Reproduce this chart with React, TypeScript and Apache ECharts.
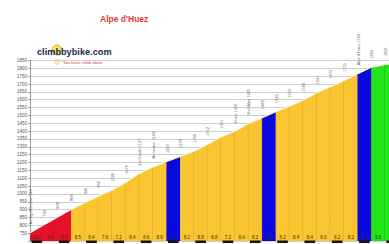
import React, { useEffect, useRef } from "react";
import * as echarts from "echarts";

// Segment boundaries (km) and elevation at each boundary (m)
const KM = [0, 0.5, 1, 1.5, 2, 2.5, 3, 3.5, 4, 4.5, 5, 5.5, 6, 6.5, 7, 7.5, 8, 8.5, 9, 9.5, 10, 10.5, 11, 11.5, 12, 12.5, 13, 13.5];
const ELEV = [749, 799, 848, 898, 940, 982, 1020, 1070, 1127, 1168, 1203, 1235, 1269, 1312, 1361, 1396, 1445, 1482, 1520, 1556, 1594, 1641, 1679, 1719, 1762, 1804, 1821, 1834];
// Segment colour class: r = red, y = yellow, b = blue, g = green
const SEG_CLASS = ["r", "r", "r", "y", "y", "y", "y", "y", "y", "y", "b", "y", "y", "y", "y", "y", "y", "b", "y", "y", "y", "y", "y", "y", "b", "g", "g"];
// Gradient labels at the bottom of each segment (%)
const GRADES = ["10.0", "9.8", "9.9", "8.5", "8.4", "7.6", "7.2", "8.4", "8.6", "8.6", "6.4", "8.2", "8.8", "8.8", "7.2", "8.4", "8.2", "7.6", "8.2", "8.4", "8.4", "8.0", "8.2", "8.2", "8.4", "3.6", ""];
// Labels written vertically above each boundary point
const POINT_LABELS = ["Bourg d'Oisans 749", "799", "848", "898", "940", "982", "1020", "1070", "La Garde 1127", "Armentier 1168", "1203", "1235", "1269", "1312", "1361", "Huez 1396", "Vieil Alpe 1445", "1482", "1520", "1556", "1594", "1641", "1679", "1719", "Alpe d'Huez 1762", "1804", "1821", "1834"];
const Y_TICKS_MIN = 700;
const Y_TICKS_MAX = 1850;

const FILL: Record<string, string> = { r: "#e8102a", y: "#fbc531", b: "#0a0ae0", g: "#22e61a" };
const EDGE: Record<string, string> = { r: "#a80818", y: "#c89a1c", b: "#05058a", g: "#12a010" };

export default function App() {
  const ref = useRef<HTMLDivElement>(null);
  useEffect(() => {
    if (!ref.current) return;
    const chart = echarts.init(ref.current, null, { renderer: "svg" });
    const data = SEG_CLASS.map((_, i) => [KM[i], KM[i + 1], ELEV[i], ELEV[i + 1]]);
    chart.setOption({
      animation: false,
      backgroundColor: "#ffffff",
      grid: { left: 30, right: 0, top: 60.5, bottom: 3 },
      xAxis: { type: "value", min: 0, max: 13.15, show: false },
      yAxis: {
        type: "value",
        min: Y_TICKS_MIN,
        max: Y_TICKS_MAX,
        interval: 50,
        axisLine: { show: true, lineStyle: { color: "#999", width: 1 } },
        axisTick: { show: true, length: 2, lineStyle: { color: "#999" } },
        axisLabel: {
          fontSize: 4.5,
          color: "#555",
          margin: 3,
          fontFamily: "Liberation Sans",
          formatter: (v: number) => (v === Y_TICKS_MIN ? "" : String(v)),
        },
        splitLine: { show: true, lineStyle: { color: "#cfcfcf", width: 1 } },
      },
      series: [
        {
          type: "custom",
          clip: false,
          data,
          renderItem: (params: any, api: any) => {
            const i = params.dataIndex;
            const cls = SEG_CLASS[i];
            const p0 = api.coord([api.value(0), api.value(2)]);
            const p1 = api.coord([api.value(1), api.value(3)]);
            const b0 = api.coord([api.value(0), Y_TICKS_MIN]);
            const b1 = api.coord([api.value(1), Y_TICKS_MIN]);
            const children: any[] = [
              {
                type: "polygon",
                shape: { points: [p0, p1, b1, b0] },
                style: { fill: FILL[cls], stroke: null },
              },
              {
                type: "line",
                shape: { x1: p1[0], y1: p1[1], x2: b1[0], y2: b1[1] },
                style: { stroke: EDGE[cls], lineWidth: 0.8 },
              },
              {
                type: "line",
                shape: { x1: p0[0], y1: p0[1] - 0.5, x2: p1[0], y2: p1[1] - 0.5 },
                style: { stroke: "#fff6d8", lineWidth: 1 },
              },
              {
                type: "text",
                x: (b0[0] + b1[0]) / 2,
                y: b0[1] - 3.5,
                style: {
                  text: GRADES[i],
                  fontSize: 4.5,
                  fill: "#3a3000",
                  align: "center",
                  verticalAlign: "middle",
                  fontFamily: "Liberation Sans",
                },
              },
              {
                type: "text",
                x: p0[0] + 0.5,
                y: p0[1] - 9,
                rotation: Math.PI / 2,
                style: {
                  text: POINT_LABELS[i],
                  fontSize: 4,
                  fill: "#666",
                  align: "left",
                  verticalAlign: "middle",
                  fontFamily: "Liberation Sans",
                },
              },
            ];
            if (i % 2 === 0) {
              children.push({
                type: "rect",
                shape: { x: b0[0] + 1.5, y: b0[1] - 0.5, width: b1[0] - b0[0] - 3, height: 2.5 },
                style: { fill: "#1a1208" },
              });
            }
            return { type: "group", children };
          },
        },
      ],
      graphic: [
        {
          type: "text",
          left: 100,
          top: 14,
          style: {
            text: "Alpe d'Huez",
            fontSize: 8.5,
            fontWeight: "bold",
            fill: "#e23a3a",
            fontFamily: "Liberation Sans",
          },
        },
        {
          type: "circle",
          shape: { cx: 57, cy: 50, r: 5 },
          style: { fill: "rgba(240,215,70,0.75)", stroke: "#c9a400", lineWidth: 0.8 },
        },
        {
          type: "circle",
          shape: { cx: 57, cy: 62, r: 2.5 },
          style: { fill: "rgba(240,225,150,0.6)", stroke: "#d8c890", lineWidth: 0.6 },
        },
        {
          type: "text",
          left: 37,
          top: 47,
          style: {
            text: "climbbybike.com",
            fontSize: 9.2,
            fontWeight: "bold",
            fill: "#1c2a4e",
            fontFamily: "Liberation Sans",
          },
        },
        {
          type: "text",
          left: 63,
          top: 60.5,
          style: {
            text: "You never climb alone",
            fontSize: 4,
            fill: "#e03040",
            fontFamily: "Liberation Sans",
          },
        },
        {
          type: "text",
          left: 322,
          top: 219,
          style: {
            text: "© climbbybike",
            fontSize: 5,
            fill: "#2a2410",
            fontFamily: "Liberation Sans",
          },
        },
      ],
    });
    return () => chart.dispose();
  }, []);
  return (
    <div
      ref={ref}
      style={{ position: "fixed", left: 0, top: 0, width: 389, height: 244 }}
    />
  );
}
